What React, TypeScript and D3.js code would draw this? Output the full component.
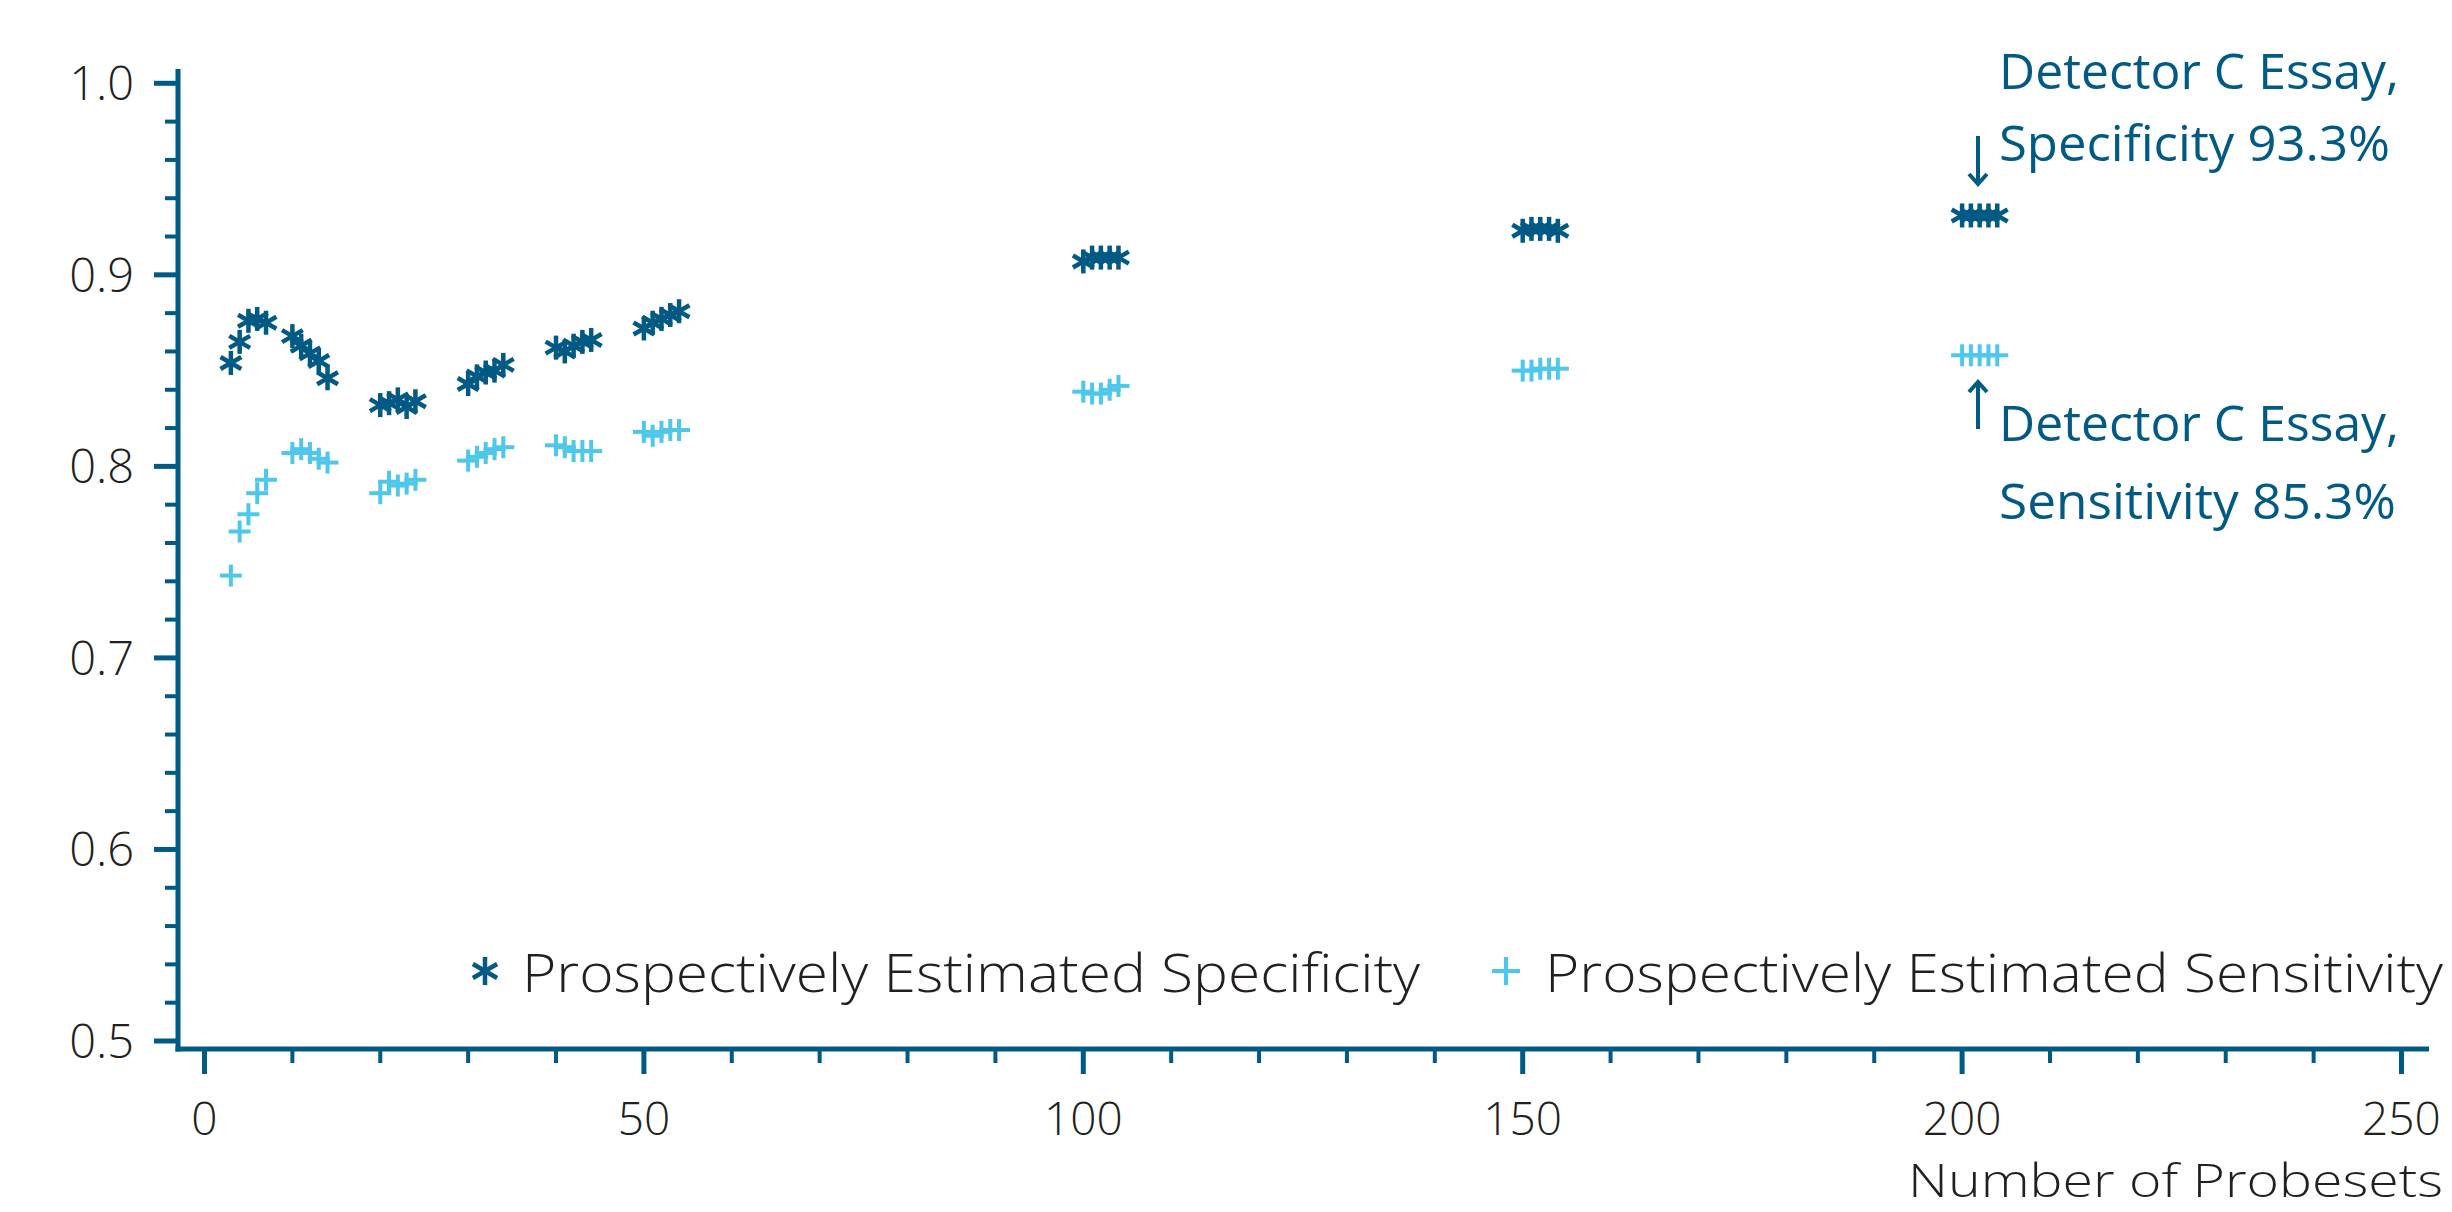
import React from 'react'
import * as d3 from 'd3'

// number of probesets for each estimate
const probesets = [
  3, 4, 5, 6, 7, 10, 11, 12, 13, 14,
  20, 21, 22, 23, 24, 30, 31, 32, 33, 34,
  40, 41, 42, 43, 44, 50, 51, 52, 53, 54,
  100, 101, 102, 103, 104, 150, 151, 152, 153, 154,
  200, 201, 202, 203, 204,
]

const specificity = [
  0.854, 0.865, 0.876, 0.877, 0.875, 0.868, 0.863, 0.859, 0.855, 0.846,
  0.832, 0.833, 0.835, 0.831, 0.834, 0.843, 0.847, 0.849, 0.850, 0.853,
  0.862, 0.860, 0.863, 0.865, 0.866, 0.872, 0.875, 0.877, 0.879, 0.881,
  0.907, 0.909, 0.909, 0.909, 0.909, 0.923, 0.924, 0.924, 0.924, 0.923,
  0.931, 0.931, 0.931, 0.931, 0.931,
]

const sensitivity = [
  0.743, 0.766, 0.775, 0.786, 0.793, 0.807, 0.809, 0.807, 0.804, 0.802,
  0.786, 0.792, 0.790, 0.791, 0.793, 0.803, 0.805, 0.807, 0.809, 0.810,
  0.811, 0.810, 0.808, 0.808, 0.808, 0.818, 0.816, 0.818, 0.819, 0.819,
  0.839, 0.838, 0.838, 0.840, 0.842, 0.850, 0.850, 0.851, 0.851, 0.851,
  0.858, 0.858, 0.858, 0.858, 0.858,
]

const xTickLabels = [0, 50, 100, 150, 200, 250]
const yTickLabels = ['0.5', '0.6', '0.7', '0.8', '0.9', '1.0']

const seriesLabels = ['Prospectively Estimated Specificity', 'Prospectively Estimated Sensitivity']
const annotationSpec = ['Detector C Essay,', 'Specificity 93.3%']
const annotationSens = ['Detector C Essay,', 'Sensitivity 85.3%']

const DARK = '#005a84'
const LIGHT = '#4ec8ea'
const TEXT = '#231f20'
const FONT = "'Open Sans', 'Noto Sans', sans-serif"

const width = 2452
const height = 1212

// asterisk: vertical bar plus two diagonals
function Asterisk({ cx, cy, r = 12, color = DARK, sw = 4.5 }) {
  const dx = r * Math.cos(Math.PI / 6)
  const dy = r * Math.sin(Math.PI / 6)
  return (
    <g stroke={color} strokeWidth={sw} strokeLinecap="butt">
      <line x1={cx} y1={cy - r} x2={cx} y2={cy + r} />
      <line x1={cx - dx} y1={cy - dy} x2={cx + dx} y2={cy + dy} />
      <line x1={cx - dx} y1={cy + dy} x2={cx + dx} y2={cy - dy} />
    </g>
  )
}

function Plus({ cx, cy, r = 11, color = LIGHT, sw = 4 }) {
  return (
    <g stroke={color} strokeWidth={sw}>
      <line x1={cx - r} y1={cy} x2={cx + r} y2={cy} />
      <line x1={cx} y1={cy - r} x2={cx} y2={cy + r} />
    </g>
  )
}

export default function App() {
  const x = d3.scaleLinear().domain([0, 250]).range([204.5, 2401.5])
  const y = d3.scaleLinear().domain([0.5, 1.0]).range([1041, 83.3])

  const axisX = 178
  const axisY = 1049

  const xMinor = x.ticks(25).filter(t => t % 50 !== 0)
  const yMinor = d3.range(0.5, 1.001, 0.02).filter(t => Math.abs(Math.round(t * 10) - t * 10) > 0.01)

  return (
    <svg width={width} height={height} viewBox={`0 0 ${width} ${height}`}
      style={{ position: 'absolute', left: 0, top: 0, background: '#fff' }}>

      {/* axes */}
      <g stroke={DARK} strokeWidth={5}>
        <line x1={axisX} y1={69} x2={axisX} y2={axisY + 2.5} />
        <line x1={axisX - 2.5} y1={axisY} x2={2429} y2={axisY} />
        {yTickLabels.map(t => (
          <line key={'ym' + t} x1={axisX - 24} x2={axisX} y1={y(+t)} y2={y(+t)} />
        ))}
        {yMinor.map(t => (
          <line key={'yn' + t} x1={axisX - 13} x2={axisX} y1={y(t)} y2={y(t)} strokeWidth={4} />
        ))}
        {xTickLabels.map(t => (
          <line key={'xm' + t} x1={x(t)} x2={x(t)} y1={axisY} y2={axisY + 25} />
        ))}
        {xMinor.map(t => (
          <line key={'xn' + t} x1={x(t)} x2={x(t)} y1={axisY} y2={axisY + 14} strokeWidth={4} />
        ))}
      </g>

      {/* tick labels */}
      <g fontFamily={FONT} fontWeight={300} fill={TEXT}>
        {yTickLabels.map(t => (
          <text key={'yl' + t} x={134} y={y(+t)} dy="0.36em" textAnchor="end" fontSize={47}>{t}</text>
        ))}
        {xTickLabels.map(t => (
          <text key={'xl' + t} x={x(t)} y={1135} textAnchor="middle" fontSize={46}>{t}</text>
        ))}
        <text x={1908} y={1197} fontSize={46} textLength={535} lengthAdjust="spacingAndGlyphs">Number of Probesets</text>
      </g>

      {/* points */}
      <g>
        {probesets.map((p, i) => (
          <Asterisk key={'s' + i} cx={x(p)} cy={y(specificity[i])} />
        ))}
        {probesets.map((p, i) => (
          <Plus key={'n' + i} cx={x(p)} cy={y(sensitivity[i])} />
        ))}
      </g>

      {/* legend */}
      <g fontFamily={FONT} fontWeight={300} fill={TEXT}>
        <Asterisk cx={485} cy={971} r={14} />
        <text x={522} y={992} fontSize={54} textLength={898} lengthAdjust="spacingAndGlyphs">{seriesLabels[0]}</text>
        <Plus cx={1506} cy={971} r={14} />
        <text x={1545} y={992} fontSize={54} textLength={898} lengthAdjust="spacingAndGlyphs">{seriesLabels[1]}</text>
      </g>

      {/* annotations */}
      <g fontFamily={FONT} fontWeight={500} fill={DARK} fontSize={50}>
        <text x={1999} y={89} textLength={400} lengthAdjust="spacingAndGlyphs">{annotationSpec[0]}</text>
        <text x={1999} y={161} textLength={391} lengthAdjust="spacingAndGlyphs">{annotationSpec[1]}</text>
        <text x={1999} y={441} textLength={400} lengthAdjust="spacingAndGlyphs">{annotationSens[0]}</text>
        <text x={1999} y={519} textLength={397} lengthAdjust="spacingAndGlyphs">{annotationSens[1]}</text>
      </g>
      <g stroke={DARK} strokeWidth={4} fill="none">
        <line x1={1978} y1={136} x2={1978} y2={184} />
        <polyline points="1969,174 1978,184 1987,174" />
        <line x1={1978} y1={382} x2={1978} y2={429} />
        <polyline points="1969,392 1978,382 1987,392" />
      </g>
    </svg>
  )
}
